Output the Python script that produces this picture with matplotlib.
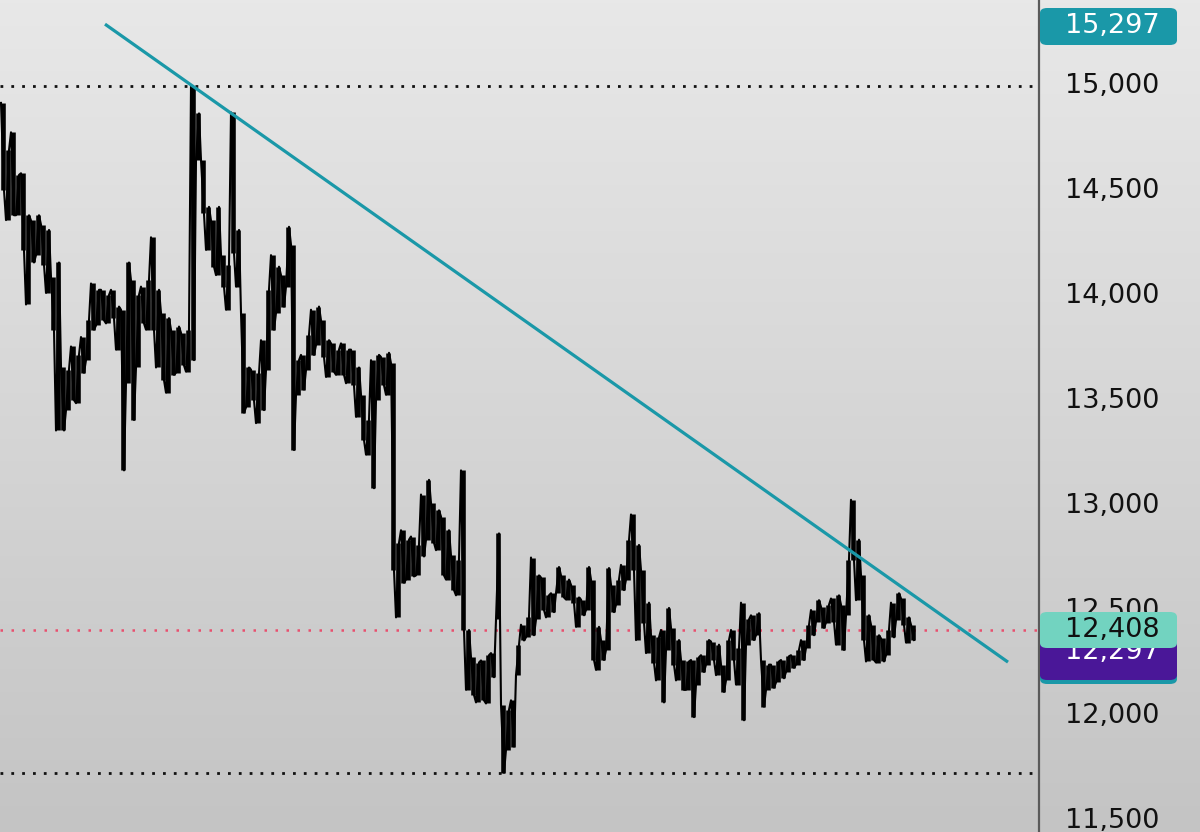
import numpy as np
import matplotlib
matplotlib.use("Agg")
import matplotlib.pyplot as plt
from matplotlib.patches import FancyBboxPatch
from matplotlib.transforms import blended_transform_factory
from matplotlib.colors import LinearSegmentedColormap

# ---------------- data ----------------
# per-bin high / low prices, evenly spaced time bins
high = [14920, 14695, 14780, 14577, 14585, 14385, 14360, 14385, 14340, 14315,
        14090, 14160, 13660, 13650, 13760, 13720, 13805, 13885, 14060, 14030,
        14030, 14005, 14030, 13950, 13935, 14160, 14075, 14005, 14045, 14075,
        14280, 14030, 13920, 13895, 13840, 13855, 13825, 13840, 15000, 14870,
        14648, 14425, 14360, 14425, 14195, 14150, 14875, 14315, 13920, 13660,
        13650, 13635, 13790, 14030, 14195, 14140, 14100, 14330, 14245, 13695,
        13720, 13815, 13935, 13950, 13885, 13790, 13775, 13745, 13775, 13745,
        13745, 13660, 13530, 13410, 13695, 13720, 13710, 13730, 13680, 12825,
        12885, 12840, 12855, 12815, 13055, 13125, 13015, 12980, 12950, 12885,
        12765, 12745, 13170, 12410, 12280, 12255, 12265, 12290, 12300, 12870,
        12055, 12030, 12075, 12340, 12435, 12470, 12755, 12670, 12660, 12575,
        12585, 12710, 12670, 12650, 12625, 12565, 12555, 12710, 12650, 12425,
        12362, 12705, 12625, 12650, 12720, 12840, 12960, 12815, 12695, 12540,
        12385, 12375, 12410, 12515, 12420, 12362, 12267, 12260, 12267, 12280,
        12290, 12362, 12355, 12340, 12245, 12362, 12410, 12325, 12540, 12460,
        12480, 12490, 12267, 12245, 12245, 12260, 12267, 12285, 12290, 12315,
        12362, 12435, 12505, 12552, 12520, 12530, 12560, 12575, 12530, 12745,
        13030, 12840, 12670, 12480, 12435, 12385, 12370, 12410, 12540, 12585,
        12560, 12470, 12435]
low = [14505, 14362, 14385, 14385, 14220, 13960, 14160, 14195, 14150, 14015,
       13840, 13360, 13360, 13457, 13505, 13490, 13635, 13695, 13840, 13860,
       13885, 13870, 13895, 13745, 13170, 13585, 13410, 13660, 13870, 13840,
       13840, 13660, 13600, 13540, 13625, 13635, 13670, 13640, 13695, 14650,
       14395, 14220, 14140, 14100, 14045, 13935, 14205, 14045, 13445, 13470,
       13505, 13395, 13457, 13648, 13840, 13920, 13950, 14045, 13267, 13530,
       13555, 13648, 13720, 13767, 13710, 13615, 13640, 13625, 13625, 13585,
       13575, 13425, 13315, 13245, 13085, 13505, 13575, 13530, 12695, 12470,
       12635, 12650, 12665, 12670, 12760, 12840, 12825, 12790, 12670, 12650,
       12600, 12575, 12410, 12125, 12100, 12065, 12075, 12060, 12185, 12460,
       11730, 11840, 11855, 12195, 12360, 12375, 12385, 12460, 12505, 12470,
       12495, 12585, 12565, 12555, 12540, 12425, 12480, 12505, 12267, 12220,
       12267, 12315, 12495, 12530, 12600, 12650, 12695, 12362, 12445, 12300,
       12255, 12170, 12065, 12315, 12245, 12170, 12125, 12125, 11995, 12150,
       12210, 12245, 12267, 12195, 12115, 12170, 12267, 12150, 11980, 12340,
       12362, 12385, 12045, 12125, 12135, 12160, 12180, 12210, 12230, 12245,
       12267, 12325, 12385, 12450, 12420, 12445, 12450, 12340, 12315, 12480,
       12745, 12552, 12362, 12260, 12267, 12255, 12260, 12290, 12375, 12457,
       12435, 12350, 12362]

trend_x = [21.0, 201.6]          # bin index
trend_y = [15295, 12257]
level_hi = 15000
level_lo = 11729
last_price = 12408
tick_values = [11500, 12000, 12500, 13000, 13500, 14000, 14500, 15000]
label_trend_top = "15,297"
label_last = "12,408"
label_other = "12,297"

# ---------------- figure ----------------
W, H = 1200, 832
fig = plt.figure(figsize=(W / 100, H / 100), dpi=100)

bg = fig.add_axes([0, 0, 1, 1], zorder=-10)
grad = np.linspace(0, 1, 256).reshape(-1, 1)
cmap = LinearSegmentedColormap.from_list("bg", ["#e8e8e8", "#c4c4c4"])
bg.imshow(grad, aspect="auto", cmap=cmap, extent=[0, 1, 0, 1], origin="upper")
bg.set_axis_off()

ax_w = 1037 / W
ax = fig.add_axes([0, 0, ax_w, 1])
ax.patch.set_alpha(0)
ax.set_xlim(0, 207.4)
ax.set_ylim(11448, 15410)
ax.set_axis_off()

n = len(high)
xs = np.arange(n)
zx = np.empty(2 * n)
zy = np.empty(2 * n)
zx[0::2] = xs + 0.2
zx[1::2] = xs + 0.8
zy[0::2] = np.where(xs % 2 == 0, high, low)
zy[1::2] = np.where(xs % 2 == 0, low, high)
ax.vlines(xs + 0.5, low, high, color="black", lw=3.3, zorder=3)
ax.plot(zx, zy, color="black", lw=1.5, zorder=3)

ax.axhline(level_hi, color="#111111", lw=2.0, ls=(0, (1, 2.9)), zorder=2)
ax.axhline(level_lo, color="#111111", lw=2.0, ls=(0, (1, 2.9)), zorder=2)
ax.axhline(last_price, color="#e8506e", lw=1.8, ls=(0, (1, 3.4)), zorder=2)

ax.plot(trend_x, trend_y, color="#1a98a8", lw=2.3, solid_capstyle="butt", zorder=4)

fig.add_artist(plt.Line2D([1038.5 / W, 1038.5 / W], [0, 1], color="#5a5a5a", lw=1.6,
                          transform=fig.transFigure))

FONT = ["DejaVu Sans"]
tr = blended_transform_factory(fig.transFigure, ax.transData)
for v in tick_values:
    ax.text(1112 / W, v, f"{v:,}", transform=tr, ha="center", va="center",
            fontsize=19.5, family=FONT, color="#111111", clip_on=False, zorder=5)

def box(y_top_px, y_bot_px, color, z, text=None, tcolor="white", ty=None):
    x0, x1 = 1040, 1177
    p = FancyBboxPatch((x0 / W, 1 - y_bot_px / H), (x1 - x0) / W, (y_bot_px - y_top_px) / H,
                       boxstyle="round,pad=0,rounding_size=0.006", transform=fig.transFigure,
                       facecolor=color, edgecolor="none", zorder=z)
    fig.add_artist(p)
    if text:
        yc = ty if ty is not None else (y_top_px + y_bot_px) / 2
        fig.text(1112 / W, 1 - yc / H, text, ha="center", va="center",
                 fontsize=19.5, family=FONT, color=tcolor, zorder=z + 0.1)

box(8, 45, "#1a98a8", 10, label_trend_top, "white")
box(650, 684, "#1a98a8", 10)
box(630, 680, "#4a1798", 11, label_other, "white", ty=652)
box(612, 648, "#72d3c0", 12, label_last, "#111111")

fig.savefig("out.png", dpi=100)
